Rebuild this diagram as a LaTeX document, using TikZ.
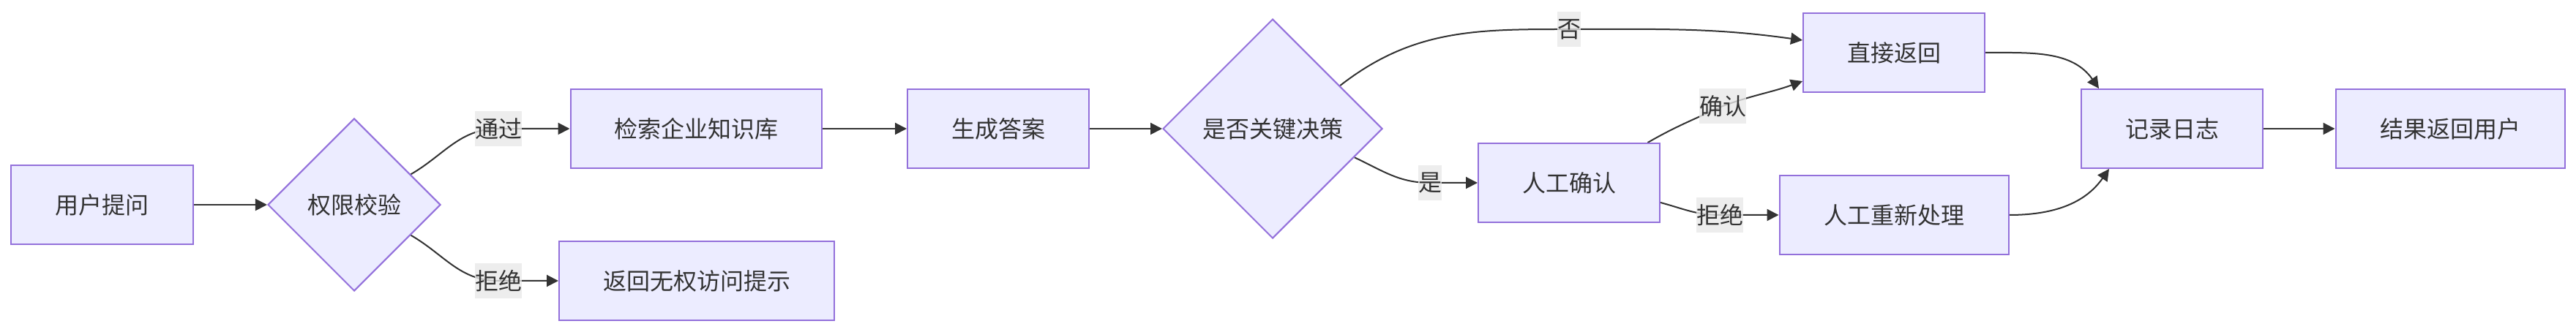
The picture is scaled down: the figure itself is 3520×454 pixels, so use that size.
\documentclass[tikz,border=0pt]{standalone}
\usepackage{fontspec}
\setmainfont{Noto Sans CJK SC}
\usetikzlibrary{shapes.geometric,arrows.meta,calc,backgrounds}
\definecolor{nfill}{HTML}{ECECFF}
\definecolor{nline}{HTML}{9370DB}
\definecolor{eline}{HTML}{333333}
\definecolor{lbg}{HTML}{E8E8E8}
\tikzset{
  txt/.style={text=eline, font=\fontsize{32pt}{40pt}\selectfont},
  box/.style={txt, draw=nline, fill=nfill, line width=2pt, minimum height=108pt, inner sep=0pt},
  dia/.style={txt, diamond, aspect=1, draw=nline, fill=nfill, line width=2pt, inner sep=0pt},
  elabel/.style={txt, fill=lbg, fill opacity=0.8, text opacity=1, inner sep=0pt, minimum height=48pt},
  conn/.style={draw=eline, line width=2pt, -{Triangle[length=16pt,width=16pt]}}
}
\begin{document}
\begin{tikzpicture}[x=1pt,y=1pt]
\useasboundingbox (0,0) rectangle (3520,454);
% nodes
\node[box, minimum width=249pt] (q) at (139.5,174) {用户提问};
\node[dia, minimum width=236pt, minimum height=236pt] (perm) at (484,174) {权限校验};
\node[box, minimum width=343pt] (kb) at (951,278) {检索企业知识库};
\node[box, minimum width=376pt] (deny) at (952,70) {返回无权访问提示};
\node[box, minimum width=248pt] (gen) at (1364,278) {生成答案};
\node[dia, minimum width=300pt, minimum height=300pt] (dec) at (1739,278) {是否关键决策};
\node[box, minimum width=248pt] (rg) at (2144,204) {人工确认};
\node[box, minimum width=248pt] (zj) at (2588,382) {直接返回};
\node[box, minimum width=313pt] (rw) at (2588,160) {人工重新处理};
\node[box, minimum width=248pt] (log) at (2968,278) {记录日志};
\node[box, minimum width=313pt] (res) at (3348,278) {结果返回用户};
% edge labels
\node[elabel] (l1) at (681,278) {通过};
\node[elabel] (l2) at (681,70) {拒绝};
\node[elabel] (l3) at (2144,414) {否};
\node[elabel] (l4) at (1954,204) {是};
\node[elabel] (l5) at (2354,309) {确认};
\node[elabel] (l6) at (2350,160) {拒绝};
% connectors
\begin{scope}[on background layer]
\draw[conn] (q) -- (perm);
\draw[conn] ($(perm.east)!0.35!(perm.north)$) to[out=30,in=180] (l1.center) -- (kb.west);
\draw[conn] ($(perm.east)!0.35!(perm.south)$) to[out=-30,in=180] (l2.center) -- (deny.west);
\draw[conn] (kb) -- (gen);
\draw[conn] (gen) -- (dec);
\draw[conn] ($(dec.east)!0.39!(dec.north)$) to[out=38,in=180] (l3.center) to[out=0,in=172] ($(zj.west)+(0,17)$);
\draw[conn] ($(dec.east)!0.26!(dec.south)$) to[out=-25,in=180] (l4.center) -- (rg.west);
\draw[conn] ($(rg.north)!0.86!(rg.north east)$) to[out=30,in=205] (l5.center) to[out=20,in=200] ($(zj.west)+(0,-39)$);
\draw[conn] ($(rg.east)+(0,-27)$) to[out=-15,in=180] (l6.center) -- (rw.west);
\draw[conn] (zj.east) to[out=0,in=125] ($(log.north)+(-100,0)$);
\draw[conn] (rw.east) to[out=0,in=235] ($(log.south)+(-86,0)$);
\draw[conn] (log) -- (res);
\end{scope}
\end{tikzpicture}
\end{document}
